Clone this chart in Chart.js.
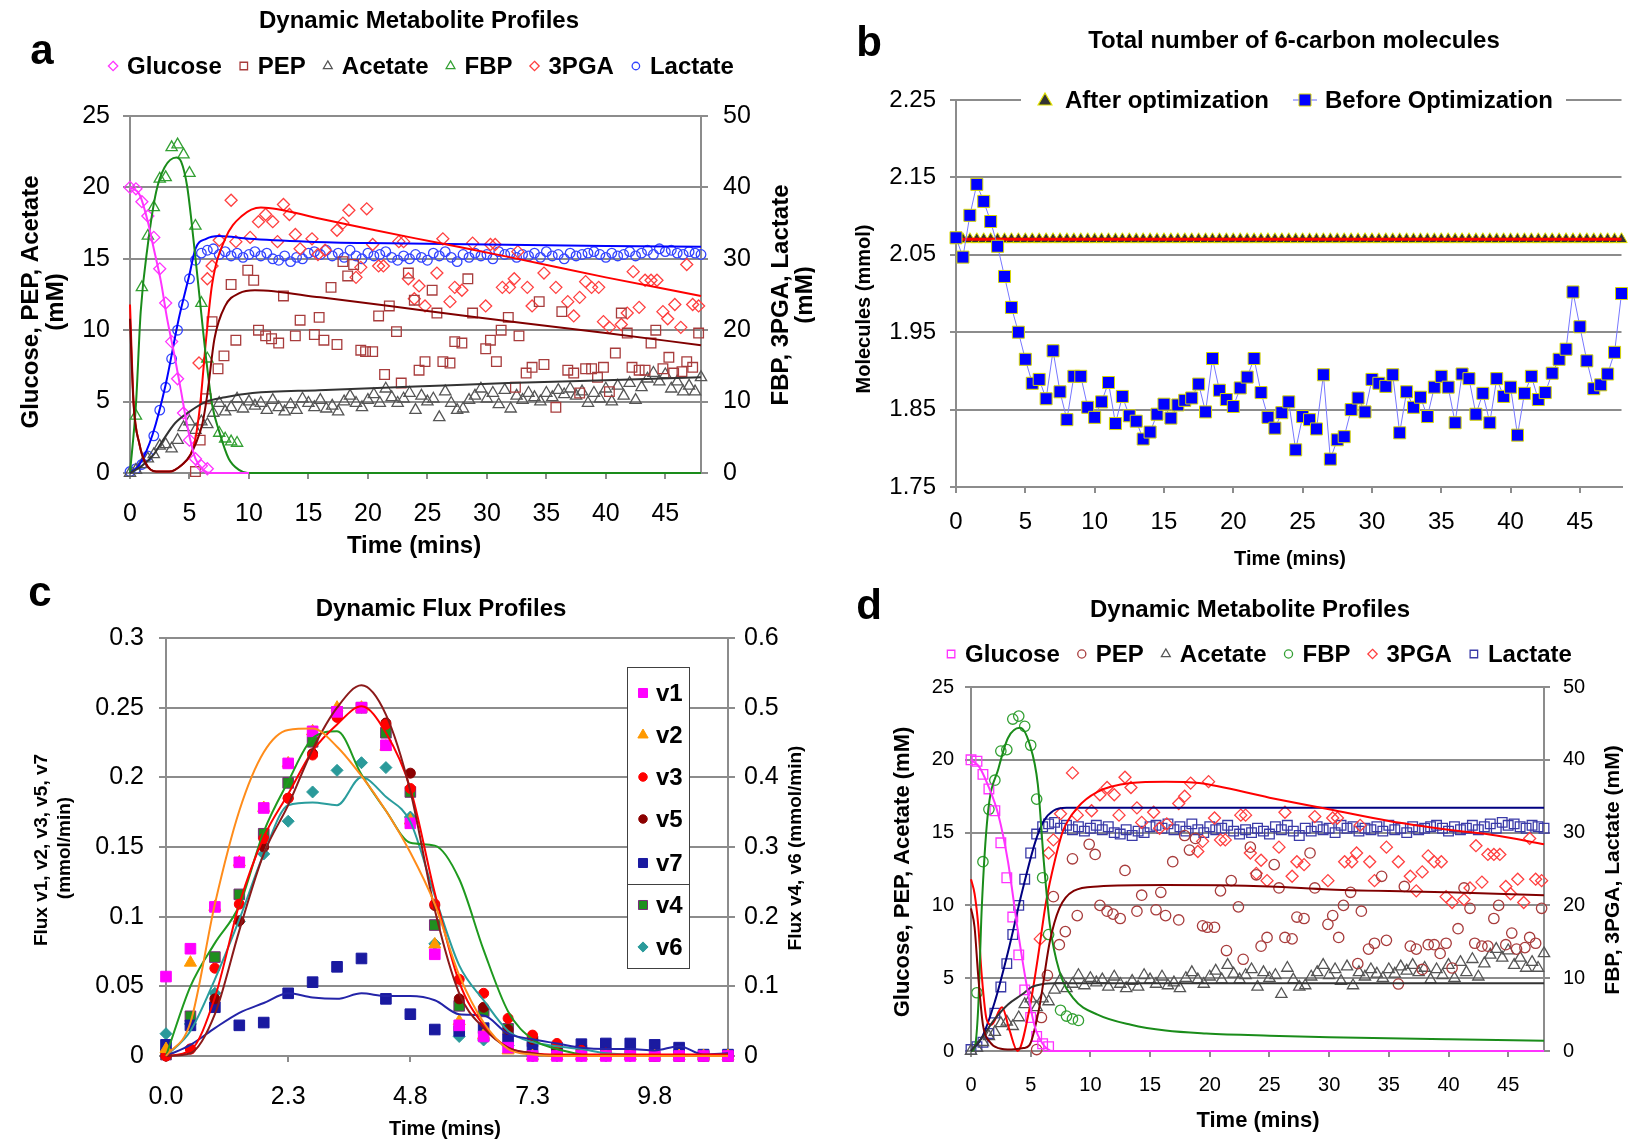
<!DOCTYPE html>
<html lang="en">
<head>
    <meta charset="UTF-8">
    <title>Metabolite and Flux Profiles</title>
    <script src="https://cdn.jsdelivr.net/npm/chart.js"></script>
    <style>
        * { box-sizing: border-box; margin: 0; padding: 0; }
        body {
            width: 1631px;
            height: 1142px;
            background: #fff;
            position: relative;
            overflow: hidden;
        }
        canvas { position: absolute; }
        #chartA { left: 0; top: 0; }
        #chartB { left: 815px; top: 0; }
        #chartC { left: 0; top: 575px; }
        #chartD { left: 815px; top: 575px; }
    </style>
</head>
<body>
    <canvas id="chartA" width="815" height="575"></canvas>
    <canvas id="chartB" width="816" height="575"></canvas>
    <canvas id="chartC" width="815" height="567"></canvas>
    <canvas id="chartD" width="816" height="567"></canvas>

    <script>
        // ---------- data ----------
        const seriesNames = ['Glucose', 'PEP', 'Acetate', 'FBP', '3PGA', 'Lactate'];
        const xTicks = [0, 5, 10, 15, 20, 25, 30, 35, 40, 45];

        // sampling grid (mins) used by the dense series
        const tGrid = [0,0.5,1,1.5,2,2.5,3,3.5,4,4.5,5,5.5,6,6.5,7,7.5,8,8.5,9,9.5,
            10,10.5,11,11.5,12,12.5,13,13.5,14,14.5,15,15.5,16,16.5,17,17.5,18,18.5,19,19.5,
            20,20.5,21,21.5,22,22.5,23,23.5,24,24.5,25,25.5,26,26.5,27,27.5,28,28.5,29,29.5,
            30,30.5,31,31.5,32,32.5,33,33.5,34,34.5,35,35.5,36,36.5,37,37.5,38,38.5,39,39.5,
            40,40.5,41,41.5,42,42.5,43,43.5,44,44.5,45,45.5,46,46.5,47,47.5,48];

        // measured metabolites (left axis: glucose, PEP, acetate / right axis: FBP, 3PGA, lactate)
        const glucoseT = [0,0.5,1,1.5,2,2.5,3,3.5,4,4.5,5,5.5,6,6.5];
        const glucoseV = [20.0,19.9,19.0,18.0,16.5,14.3,11.9,9.2,6.6,4.2,2.3,1.0,0.5,0.3];

        const fbpT = [0.5,1,1.5,2,2.5,3,3.5,4,4.5,5,5.5,6,6.5,7.5,8,8.5,9];
        const fbpV = [8.0,26.0,33.2,37.2,41.2,41.4,45.6,46.0,44.6,42.0,34.6,23.8,16.0,5.6,4.8,4.4,4.2];

        const pepT = [5.5,5.9,6.4,6.9,7.4,7.9,8.5,8.9,9.9,10.4,10.8,11.4,11.9,12.5,12.9,13.9,14.3,15.5,15.9,16.3,
            16.9,17.4,17.9,18.3,18.8,19.4,19.8,20.4,20.9,21.4,21.8,22.4,22.8,23.4,23.9,24.3,24.8,25.4,25.8,26.3,
            26.9,27.3,27.9,28.4,28.8,29.9,30.3,30.8,31.2,31.8,32.4,32.7,33.3,33.8,34.4,34.8,35.8,36.3,36.8,37.3,
            37.8,38.3,38.8,39.3,39.8,40.3,40.8,41.3,41.8,42.2,42.8,43.3,43.8,44.2,44.8,45.3,45.7,46.4,46.8,47.3,47.8];
        const pepV = [0.1,2.3,5.2,10.6,7.3,8.2,13.2,9.3,14.2,13.5,10.0,9.6,9.4,9.1,12.4,9.6,10.7,9.7,10.9,9.3,
            13.0,9.0,14.8,13.8,14.6,8.6,8.5,8.5,11.0,6.9,11.7,9.9,6.3,14.0,12.1,7.2,7.8,12.8,11.2,7.8,
            7.7,9.2,9.1,13.6,11.2,8.7,9.3,7.8,10.0,10.9,6.0,9.6,7.0,7.4,12.0,7.6,4.6,11.3,7.2,7.0,
            5.6,7.3,7.3,6.7,7.4,5.7,8.4,11.2,9.8,7.4,7.2,7.2,9.1,10.0,7.3,8.1,7.0,7.1,7.8,7.4,9.8];

        const pgaT = [5.8,6.5,6.9,7.5,8.5,8.9,10.1,10.8,11.4,12.0,12.4,12.9,13.4,13.9,14.3,15.3,15.8,16.4,17.4,17.9,
            18.4,19.0,19.4,19.9,20.4,20.9,21.3,22.6,23.0,23.4,23.9,24.3,24.8,25.8,26.3,26.9,27.3,27.9,28.8,29.9,
            30.3,30.7,31.3,31.9,32.3,32.6,33.4,33.8,34.8,35.8,36.8,37.3,37.8,38.3,38.8,39.4,39.8,40.3,41.3,41.8,
            42.3,42.8,43.3,43.8,44.3,44.8,45.2,45.8,46.3,46.8,47.3,47.8];
        const pgaV = [15.4,27.2,29.0,32.6,38.2,32.4,33.0,35.2,36.2,35.2,32.4,37.6,36.2,33.4,31.4,32.8,30.6,31.2,34.0,35.0,
            36.8,27.4,28.8,37.0,32.0,29.0,29.0,32.4,32.4,27.2,24.4,26.2,23.4,28.0,32.8,24.0,26.0,25.6,32.2,23.4,
            32.0,32.0,26.0,26.0,27.2,31.0,26.0,23.4,28.0,26.0,24.0,22.0,24.6,26.8,26.0,26.0,21.2,20.4,20.8,22.4,
            28.2,23.2,27.0,27.0,27.0,22.6,21.6,23.6,20.4,29.2,23.6,23.4];

        const lactateV = [0.2,0.6,1.2,2.4,5.2,8.8,12.0,16.0,20.0,23.6,27.2,29.8,30.8,31.2,31.4,
            30.6,31.0,30.4,30.8,30.2,30.6,31.0,30.4,30.8,30.0,29.8,30.4,29.6,30.2,30.0,
            30.8,31.0,30.6,31.2,30.4,30.8,30.2,31.2,30.4,30.0,
            30.8,30.4,30.6,31.0,30.2,29.8,30.4,30.0,30.6,30.2,
            29.8,30.8,30.4,31.0,30.2,29.6,30.6,30.2,30.8,30.4,
            30.6,30.0,31.0,30.6,30.8,30.2,30.6,30.4,30.8,30.2,
            31.0,30.4,30.6,30.0,30.8,30.4,30.6,30.8,31.0,30.6,
            30.2,30.8,30.4,30.6,31.0,30.4,30.8,31.2,30.6,31.4,
            31.0,31.2,30.8,30.6,31.0,30.8,30.6];

        const acetateV = [0.0,0.2,0.6,1.0,1.3,1.9,2.0,1.7,2.3,3.2,3.6,3.0,3.6,3.4,4.2,
            4.9,4.3,4.6,5.2,4.5,5.0,4.7,4.9,4.4,5.1,4.6,4.3,4.8,4.4,5.2,
            4.9,4.6,5.1,4.5,4.7,4.3,5.0,5.4,4.9,4.6,
            5.1,5.5,4.9,5.9,5.3,4.9,5.2,5.6,4.4,5.4,
            5.0,5.2,3.9,5.7,4.9,4.4,4.5,5.1,5.4,5.9,
            5.2,5.6,4.8,5.8,4.5,5.4,5.1,5.6,5.3,5.0,
            5.6,5.3,5.8,5.5,5.9,5.4,5.7,4.9,5.6,5.2,
            5.9,5.0,6.1,5.4,6.3,5.1,6.0,6.6,7.0,6.4,
            6.9,5.9,6.4,5.7,6.1,5.7,6.7];

        // model curves, panel a (knots)
        const glcLineAT = [0,0.8,1.5,2,2.6,3.1,3.7,4.3,4.7,5.1,5.5,6.2,6.8,10];
        const glcLineAV = [20,19.5,17.6,15.7,13.4,10.9,8.4,5.7,3.8,2.2,1.0,0.2,0,0];
        const fbpLineAT = [0,0.5,0.9,1.5,2.2,2.9,3.9,4.3,4.8,5.2,5.8,6.4,6.9,7.5,8.3,9.2,9.9,48];
        const fbpLineAV = [0,9.6,22.6,32,39.4,42.8,44.2,43.6,40.2,34.8,25.4,16,9.6,5.8,2,0.4,0,0];
        const pepLineAT = [0,0.3,0.8,1.3,2.2,3.3,4.4,5.1,5.5,6.1,6.5,7.1,8.0,9.2,10.5,16,25,33,40,48];
        const pepLineAV = [10.8,4.8,2.0,0.7,0.1,0.1,0.6,1.3,2.0,3.5,5.5,9.4,11.7,12.6,12.8,12.3,11.35,10.5,9.8,8.95];
        const pgaLineAT = [0,0.3,0.8,1.3,2.2,3.3,4.4,5.1,5.5,5.9,6.4,6.9,8.0,9.4,11,16,20,26,32,40,48];
        const pgaLineAV = [23.6,10,4,1.4,0.2,0.2,1.2,2.6,4.8,9.6,18.8,26.4,32.8,36,37.2,35.6,34.2,32.2,30.2,27.4,24.8];
        const acetLineAT = [0,1,2,2.7,3.8,5,6.4,8,10.3,15.9,24,31.8,40,48];
        const acetLineAV = [0,0.5,1.3,2.2,3.5,4.3,5.0,5.3,5.6,5.8,6.05,6.3,6.5,6.7];
        const lacLineAT = [0,0.8,1.9,3.0,4.1,5.0,5.5,6.4,7.5,10,15,20,30,40,48];
        const lacLineAV = [0,1.2,5.4,12.4,21.6,27.8,31.4,32.8,33.2,32.8,32.4,32.2,32.0,31.8,31.7];

        // model curves, panel d (knots)
        const glcLineDT = [0,0.7,1.4,2.3,3.1,3.9,4.6,5.3,6.0,6.9,48];
        const glcLineDV = [20,19.5,18.3,16.2,13.0,8.4,4.8,1.8,0.5,0,0];
        const fbpLineDT = [0,0.3,0.6,0.9,1.4,2.3,3.1,4.1,4.9,5.6,6.1,6.6,7.4,8.6,10.6,13.4,16.3,19.7,25,30,40,48];
        const fbpLineDV = [0,0.4,5.8,19.6,32.4,38.8,43,44.4,42.2,36.6,26,17.4,11,7.2,5,3.6,2.8,2.4,2.1,1.9,1.6,1.4];
        const pepLineDT = [0,0.3,0.6,1.0,1.6,2.3,3.4,4.4,4.9,5.7,6.6,7.4,8.6,10.6,16.3,25,30,40,48];
        const pepLineDV = [9.8,8.5,5.2,1.8,0.6,0.2,0.1,0.2,0.4,2.9,7.5,9.8,11.0,11.3,11.4,11.3,11.1,10.9,10.7];
        const pgaLineDT = [0,0.3,0.6,0.9,1.3,1.7,2.6,3.2,3.9,4.9,5.6,6.3,7.0,7.7,8.9,10.6,13.4,16.3,19.1,25,30,35,40,44,48];
        const pgaLineDV = [23.6,21.6,17.4,10.4,4.4,3.6,6.0,3.0,0,5.8,12.8,20.6,26,30.2,33.4,35.6,36.8,37,36.8,34.8,33.2,31.6,30.4,29.6,28.4];
        const acetLineDT = [0,0.9,2,3.1,4.3,5.1,6,7,48];
        const acetLineDV = [0,0.9,2.2,3.2,3.9,4.4,4.6,4.65,4.65];
        const lacLineDT = [0,0.9,2,3.1,4.3,5.4,6.1,6.9,8,48];
        const lacLineDV = [0,1.8,6.8,13.6,22,28.8,31.6,33,33.4,33.4];

        // panel b: total 6-carbon molecules (mmol) on tGrid
        const beforeOpt = [2.072,2.047,2.101,2.141,2.119,2.093,2.061,2.022,1.982,1.950,
            1.915,1.884,1.889,1.864,1.926,1.873,1.837,1.893,1.893,1.853,
            1.840,1.860,1.885,1.832,1.867,1.842,1.835,1.812,1.821,1.844,
            1.857,1.839,1.856,1.862,1.865,1.883,1.847,1.916,1.875,1.863,
            1.854,1.878,1.892,1.916,1.872,1.840,1.826,1.846,1.860,1.798,
            1.841,1.837,1.825,1.895,1.786,1.811,1.815,1.850,1.865,1.847,
            1.889,1.884,1.880,1.895,1.820,1.873,1.853,1.866,1.841,1.879,
            1.893,1.879,1.833,1.896,1.890,1.844,1.871,1.833,1.890,1.867,
            1.879,1.817,1.871,1.893,1.863,1.872,1.897,1.915,1.928,2.002,
            1.957,1.913,1.877,1.882,1.896,1.924,2.000];
        const afterOpt = [2.07,2.07,2.07,2.07,2.07,2.07,2.07,2.07,2.07,2.07,
            2.07,2.07,2.07,2.07,2.07,2.07,2.07,2.07,2.07,2.07,
            2.07,2.07,2.07,2.07,2.07,2.07,2.07,2.07,2.07,2.07,
            2.07,2.07,2.07,2.07,2.07,2.07,2.07,2.07,2.07,2.07,
            2.07,2.07,2.07,2.07,2.07,2.07,2.07,2.07,2.07,2.07,
            2.07,2.07,2.07,2.07,2.07,2.07,2.07,2.07,2.07,2.07,
            2.07,2.07,2.07,2.07,2.07,2.07,2.07,2.07,2.07,2.07,
            2.07,2.07,2.07,2.07,2.07,2.07,2.07,2.07,2.07,2.07,
            2.07,2.07,2.07,2.07,2.07,2.07,2.07,2.07,2.07,2.07,
            2.07,2.07,2.07,2.07,2.07,2.07,2.07];
        const bYTicks = [1.75, 1.85, 1.95, 2.05, 2.15, 2.25];

        // panel c: fluxes (v4, v6 on the right axis)
        const cLabels = ['0.0','0.3','0.8','1.3','1.8','2.3','2.8','3.3','3.8','4.3','4.8','5.3',
            '5.8','6.3','6.8','7.3','7.8','8.3','8.8','9.3','9.8','10.3','10.8','11.3'];
        const cNames = ['v1', 'v2', 'v3', 'v5', 'v7', 'v4', 'v6'];
        const v1 = [0.057,0.077,0.107,0.139,0.178,0.210,0.233,0.247,0.250,0.223,0.167,0.073,0.022,0.014,0.006,0,0,0,0,0,0,0,0,0];
        const v2 = [0.005,0.067,0.107,0.139,0.178,0.210,0.233,0.250,0.250,0.222,0.169,0.080,0.025,0.015,0.004,0,0,0,0,0,0,0,0,0];
        const v3 = [0,0.005,0.063,0.109,0.156,0.185,0.216,0.243,0.250,0.238,0.192,0.109,0.055,0.045,0.027,0.015,0.009,0.004,0.002,0.001,0,0,0,0];
        const v5 = [0,0.005,0.041,0.097,0.150,0.185,0.217,0.244,0.250,0.239,0.203,0.108,0.041,0.035,0.019,0.012,0.006,0.004,0.002,0.001,0,0,0,0];
        const v7 = [0.008,0.022,0.035,0.022,0.024,0.045,0.053,0.064,0.070,0.041,0.030,0.019,0.018,0.020,0.012,0.006,0.006,0.0085,0.009,0.009,0.008,0.006,0.001,0.001];
        const v4 = [0.002,0.057,0.142,0.232,0.319,0.392,0.451,0.494,0.500,0.464,0.379,0.188,0.072,0.064,0.039,0.021,0.010,0.008,0.004,0.002,0,0,0,0];
        const v6 = [0.032,0.046,0.090,0.193,0.290,0.337,0.379,0.410,0.421,0.414,0.343,0.161,0.028,0.023,0.015,0,0,0,0,0,0,0,0,0];
        // model curves
        const v2Fit = [0,0.024,0.109,0.176,0.218,0.234,0.235,0.222,0.201,0.176,0.146,0.109,0.058,0.024,0.005,0.001,0,0,0,0,0,0,0,0];
        const v3Fit = [0,0.004,0.042,0.109,0.157,0.188,0.219,0.238,0.251,0.232,0.192,0.117,0.053,0.022,0.006,0.002,0.001,0.001,0.001,0.001,0.001,0.001,0.001,0.001];
        const v5Fit = [0,0.002,0.030,0.090,0.145,0.180,0.220,0.250,0.266,0.245,0.190,0.105,0.045,0.020,0.006,0.002,0,0,0,0,0,0,0,0];
        const v7Fit = [0,0.008,0.020,0.031,0.038,0.045,0.042,0.041,0.045,0.043,0.043,0.040,0.030,0.029,0.016,0.012,0.009,0.006,0.005,0.005,0.004,0.007,0.001,0.002];
        const v4Fit = [0,0.100,0.162,0.216,0.322,0.394,0.456,0.466,0.404,0.352,0.306,0.302,0.254,0.152,0.064,0.024,0.010,0.002,null,null,null,null,null,null];
        const v6Fit = [0,0.036,0.110,0.196,0.290,0.360,0.364,0.360,0.400,0.372,0.336,0.230,0.130,0.080,0.036,0.020,0.014,0.010,0.004,0.002,0,0,0,0];

        // ---------- helpers ----------
        const FONT = "'Liberation Sans', Arial, Helvetica, sans-serif";
        const fnt = (size, bold) => (bold ? 'bold ' : '') + size + 'px ' + FONT;
        Chart.defaults.font.family = FONT;
        Chart.defaults.color = '#000';
        const GRID = '#8c8c8c';

        const pairs = (ts, vs) => ts.map((t, i) => ({ x: t, y: vs[i] }));

        function drawMarker(ctx, style, x, y, r, fill, stroke, lw) {
            ctx.beginPath();
            if (style === 'circle') {
                ctx.arc(x, y, r, 0, Math.PI * 2);
            } else if (style === 'rect') {
                const h = r * Math.SQRT1_2;
                ctx.rect(x - h, y - h, 2 * h, 2 * h);
            } else if (style === 'rectRot') {
                ctx.moveTo(x, y - r); ctx.lineTo(x + r, y); ctx.lineTo(x, y + r); ctx.lineTo(x - r, y);
                ctx.closePath();
            } else if (style === 'triangle') {
                ctx.moveTo(x, y - r); ctx.lineTo(x + r * 0.866, y + r * 0.5); ctx.lineTo(x - r * 0.866, y + r * 0.5);
                ctx.closePath();
            }
            if (fill) { ctx.fillStyle = fill; ctx.fill(); }
            if (stroke) { ctx.strokeStyle = stroke; ctx.lineWidth = lw; ctx.stroke(); }
        }

        // texts (titles, axis titles, panel letters) and hand-made legends
        function textPlugin(items, extra) {
            return {
                id: 'panelText',
                afterDraw(chart) {
                    const ctx = chart.ctx;
                    items.forEach(t => {
                        ctx.save();
                        ctx.font = t.font;
                        ctx.fillStyle = '#000';
                        ctx.textAlign = t.align || 'center';
                        ctx.textBaseline = t.base || 'middle';
                        ctx.translate(t.x, t.y);
                        if (t.rot) ctx.rotate(-Math.PI / 2);
                        ctx.fillText(t.text, 0, 0);
                        ctx.restore();
                    });
                    if (extra) { ctx.save(); extra(ctx); ctx.restore(); }
                }
            };
        }

        // one row legend, centred at cx
        function legendRow(items, cx, y) {
            return ctx => {
                ctx.font = fnt(24, true);
                const w = items.map(it => ctx.measureText(it.name).width);
                const total = w.reduce((s, v) => s + 14 + v + 22, 0) - 22 + 5;
                let x = cx - total / 2 + 5;
                items.forEach((it, i) => {
                    drawMarker(ctx, it.style, x, y, it.r * 0.78, null, it.color, 1.3);
                    ctx.fillStyle = '#000';
                    ctx.textAlign = 'left';
                    ctx.textBaseline = 'middle';
                    ctx.fillText(it.name, x + 14, y + 1);
                    x += 14 + w[i] + 22;
                });
            };
        }

        function markers(label, data, style, color, axis, r, fill) {
            return {
                label, data, yAxisID: axis, showLine: false, clip: false,
                pointStyle: style, pointRadius: r, pointHoverRadius: r,
                pointBorderColor: color, pointBackgroundColor: fill || 'rgba(0,0,0,0)',
                pointBorderWidth: fill ? 1 : 1.3
            };
        }

        function curve(data, color, axis, width) {
            return {
                data, yAxisID: axis, showLine: true, clip: false,
                borderColor: color, borderWidth: width || 2, pointRadius: 0,
                cubicInterpolationMode: 'monotone', spanGaps: false
            };
        }

        function yScale(pos, min, max, ticks, width, o) {
            return {
                type: 'linear', position: pos, min, max,
                afterBuildTicks: s => { s.ticks = ticks.map(v => ({ value: v })); },
                afterFit: s => { s.width = width; },
                grid: { drawOnChartArea: !!o.grid, color: GRID, lineWidth: 2, tickLength: o.tl },
                border: { display: true, color: GRID, width: 2 },
                ticks: { font: { size: o.fs }, color: '#000', padding: o.pad, autoSkip: false,
                         callback: o.cb || (v => String(v)) }
            };
        }

        function xLinear(height, fs, pad) {
            return {
                type: 'linear', min: 0, max: 48,
                afterBuildTicks: s => { s.ticks = xTicks.map(v => ({ value: v })); },
                afterFit: s => { s.height = height; },
                grid: { drawOnChartArea: false, color: GRID, lineWidth: 2, tickLength: 6 },
                border: { display: true, color: GRID, width: 2 },
                ticks: { font: { size: fs }, color: '#000', padding: pad, maxRotation: 0, autoSkip: false }
            };
        }

        const baseOptions = (padding, scales) => ({
            responsive: false,
            animation: false,
            devicePixelRatio: 1,
            events: [],
            layout: { padding },
            plugins: { legend: { display: false }, tooltip: { enabled: false } },
            scales
        });

        // ---------- panel a ----------
        const styleA = [
            { style: 'rectRot', color: '#ff33ff', r: 6 },
            { style: 'rect', color: '#a83c3c', r: 6.8 },
            { style: 'triangle', color: '#555555', r: 6.5 },
            { style: 'triangle', color: '#33a033', r: 6.5 },
            { style: 'rectRot', color: '#ff4040', r: 6 },
            { style: 'circle', color: '#3344ff', r: 4.8 }
        ];
        const obsSets = [
            { d: pairs(glucoseT, glucoseV), ax: 'y' },
            { d: pairs(pepT, pepV), ax: 'y' },
            { d: pairs(tGrid, acetateV), ax: 'y' },
            { d: pairs(fbpT, fbpV), ax: 'y2' },
            { d: pairs(pgaT, pgaV), ax: 'y2' },
            { d: pairs(tGrid, lactateV), ax: 'y2' }
        ];

        new Chart(document.getElementById('chartA'), {
            type: 'line',
            data: {
                datasets: [
                    curve(pairs(glcLineAT, glcLineAV), '#ff33ff', 'y'),
                    curve(pairs(pepLineAT, pepLineAV), '#800000', 'y'),
                    curve(pairs(acetLineAT, acetLineAV), '#333333', 'y'),
                    curve(pairs(fbpLineAT, fbpLineAV), '#1a8c1a', 'y2'),
                    curve(pairs(pgaLineAT, pgaLineAV), '#ff0000', 'y2'),
                    curve(pairs(lacLineAT, lacLineAV), '#0000ff', 'y2')
                ].concat(obsSets.map((s, i) =>
                    markers(seriesNames[i], s.d, styleA[i].style, styleA[i].color, s.ax, styleA[i].r)))
            },
            options: baseOptions({ top: 116, left: 0, right: 0, bottom: 0 }, {
                x: xLinear(102, 25, 20),
                y: yScale('left', 0, 25, [0, 5, 10, 15, 20, 25], 130, { grid: true, tl: 7, fs: 25, pad: 13 }),
                y2: yScale('right', 0, 50, [0, 10, 20, 30, 40, 50], 114, { grid: false, tl: 7, fs: 25, pad: 15 })
            }),
            plugins: [textPlugin([
                { text: 'a', x: 42, y: 64, font: fnt(42, true), base: 'alphabetic' },
                { text: 'Dynamic Metabolite Profiles', x: 419, y: 21, font: fnt(24, true) },
                { text: 'Glucose, PEP, Acetate', x: 31, y: 302, font: fnt(24, true), rot: true },
                { text: '(mM)', x: 56, y: 302, font: fnt(24, true), rot: true },
                { text: 'FBP, 3PGA, Lactate', x: 781, y: 295, font: fnt(24, true), rot: true },
                { text: '(mM)', x: 805, y: 295, font: fnt(24, true), rot: true },
                { text: 'Time (mins)', x: 414, y: 546, font: fnt(24, true) }
            ], legendRow(seriesNames.map((n, i) => ({ name: n, style: styleA[i].style, color: styleA[i].color, r: styleA[i].r })), 421, 66))]
        });

        // ---------- panel b ----------
        new Chart(document.getElementById('chartB'), {
            type: 'line',
            data: {
                datasets: [
                    Object.assign(markers('Before Optimization', pairs(tGrid, beforeOpt), 'rect', '#d8d800', 'y', 8.5, '#0000ff'),
                        { showLine: true, borderColor: '#7777ff', borderWidth: 1, tension: 0 }),
                    Object.assign(curve(pairs(tGrid, afterOpt), '#ff0000', 'y', 3), { cubicInterpolationMode: 'default', tension: 0 }),
                    markers('After optimization', pairs(tGrid, afterOpt), 'triangle', '#e0e000', 'y', 6.6, '#333333')
                ]
            },
            options: baseOptions({ top: 100, left: 0, right: 8, bottom: 0 }, {
                x: xLinear(88, 24, 15),
                y: yScale('left', 1.75, 2.25, bYTicks, 141, { grid: true, tl: 6, fs: 24, pad: 14, cb: v => v.toFixed(2) })
            }),
            plugins: [textPlugin([
                { text: 'b', x: 54, y: 56, font: fnt(42, true), base: 'alphabetic' },
                { text: 'Total number of 6-carbon molecules', x: 479, y: 41, font: fnt(24, true) },
                { text: 'Molecules (mmol)', x: 49, y: 309, font: fnt(20, true), rot: true },
                { text: 'Time (mins)', x: 475, y: 559, font: fnt(20, true) }
            ], ctx => {
                const y = 100;
                ctx.fillStyle = '#fff';
                ctx.fillRect(206, y - 16, 545, 32);
                drawMarker(ctx, 'triangle', 230, y + 1, 8, '#333333', '#e0e000', 1.2);
                ctx.strokeStyle = '#9999ff'; ctx.lineWidth = 1.5;
                ctx.beginPath(); ctx.moveTo(478, y); ctx.lineTo(502, y); ctx.stroke();
                drawMarker(ctx, 'rect', 490, y, 8.5, '#0000ff', '#d8d800', 1);
                ctx.font = fnt(24, true); ctx.fillStyle = '#000';
                ctx.textAlign = 'left'; ctx.textBaseline = 'middle';
                ctx.fillText('After optimization', 250, y + 1);
                ctx.fillText('Before Optimization', 510, y + 1);
            })]
        });

        // ---------- panel c ----------
        const styleC = [
            { style: 'rect', color: '#ff00ff', r: 7.5, ax: 'y', data: v1 },
            { style: 'triangle', color: '#ff9900', r: 7, ax: 'y', data: v2 },
            { style: 'circle', color: '#ff0000', r: 5, ax: 'y', data: v3 },
            { style: 'circle', color: '#8b0000', r: 5, ax: 'y', data: v5 },
            { style: 'rect', color: '#1a1aa0', r: 7.5, ax: 'y', data: v7 },
            { style: 'rect', color: '#1f8f1f', r: 7.5, ax: 'y2', data: v4, edge: '#7a2a7a' },
            { style: 'rectRot', color: '#2a9a9a', r: 6, ax: 'y2', data: v6 }
        ];

        new Chart(document.getElementById('chartC'), {
            type: 'line',
            data: {
                labels: cLabels,
                datasets: [
                    curve(v2Fit, '#ff8c1a', 'y'),
                    curve(v5Fit, '#8b1a1a', 'y'),
                    curve(v3Fit, '#ff0000', 'y'),
                    curve(v7Fit, '#2424a8', 'y'),
                    curve(v4Fit, '#1f9a1f', 'y2'),
                    curve(v6Fit, '#2a9d9d', 'y2')
                ].concat(styleC.map((s, i) =>
                    markers(cNames[i], s.data, s.style, s.edge || s.color, s.ax, s.r, s.color)))
            },
            options: baseOptions({ top: 63, left: 0, right: 0, bottom: 0 }, {
                x: {
                    type: 'category',
                    afterFit: s => { s.height = 86; },
                    grid: { drawOnChartArea: false, lineWidth: 2, tickLength: 6,
                            color: c => (c.index % 5 === 0 ? GRID : 'rgba(0,0,0,0)') },
                    border: { display: true, color: GRID, width: 2 },
                    ticks: { font: { size: 25 }, color: '#000', padding: 20, maxRotation: 0, autoSkip: false,
                             callback: (v, i) => (i % 5 === 0 ? cLabels[i] : '') }
                },
                y: yScale('left', 0, 0.3, [0, 0.05, 0.1, 0.15, 0.2, 0.25, 0.3], 166, { grid: true, tl: 7, fs: 25, pad: 15 }),
                y2: yScale('right', 0, 0.6, [0, 0.1, 0.2, 0.3, 0.4, 0.5, 0.6], 87, { grid: false, tl: 7, fs: 25, pad: 9 })
            }),
            plugins: [textPlugin([
                { text: 'c', x: 40, y: 31, font: fnt(42, true), base: 'alphabetic' },
                { text: 'Dynamic Flux Profiles', x: 441, y: 34, font: fnt(24, true) },
                { text: 'Flux v1, v2, v3, v5, v7', x: 42, y: 275, font: fnt(19, true), rot: true },
                { text: '(mmol/min)', x: 65, y: 273, font: fnt(19, true), rot: true },
                { text: 'Flux v4, v6 (mmol/min)', x: 796, y: 273, font: fnt(19, true), rot: true },
                { text: 'Time (mins)', x: 445, y: 554, font: fnt(20, true) }
            ], ctx => {
                ctx.fillStyle = '#fff';
                ctx.fillRect(627, 92, 62, 301);
                ctx.strokeStyle = '#404040'; ctx.lineWidth = 1;
                ctx.strokeRect(627.5, 92.5, 62, 301);
                ctx.beginPath(); ctx.moveTo(627, 309.5); ctx.lineTo(689, 309.5); ctx.stroke();
                const rows = [118, 160, 202, 244, 288, 330, 372];
                ctx.font = fnt(24, true);
                styleC.forEach((s, i) => {
                    drawMarker(ctx, s.style, 643, rows[i], s.r * 0.85, s.color, s.edge || s.color, 1);
                    ctx.fillStyle = '#000'; ctx.textAlign = 'left'; ctx.textBaseline = 'middle';
                    ctx.fillText(cNames[i], 656, rows[i] + 1);
                });
            })]
        });

        // ---------- panel d ----------
        const styleD = [
            { style: 'rect', color: '#ff33ff', r: 6.8 },
            { style: 'circle', color: '#a83c3c', r: 5.2 },
            { style: 'triangle', color: '#555555', r: 6.5 },
            { style: 'circle', color: '#33a033', r: 5.2 },
            { style: 'rectRot', color: '#ff4040', r: 6 },
            { style: 'rect', color: '#3a3aa8', r: 6.8 }
        ];

        new Chart(document.getElementById('chartD'), {
            type: 'line',
            data: {
                datasets: [
                    curve(pairs(glcLineDT, glcLineDV), '#ff33ff', 'y'),
                    curve(pairs(pepLineDT, pepLineDV), '#800000', 'y'),
                    curve(pairs(acetLineDT, acetLineDV), '#333333', 'y'),
                    curve(pairs(fbpLineDT, fbpLineDV), '#1a8c1a', 'y2'),
                    curve(pairs(pgaLineDT, pgaLineDV), '#ff0000', 'y2'),
                    curve(pairs(lacLineDT, lacLineDV), '#000080', 'y2')
                ].concat(obsSets.map((s, i) =>
                    markers(seriesNames[i], s.d, styleD[i].style, styleD[i].color, s.ax, styleD[i].r)))
            },
            options: baseOptions({ top: 112, left: 0, right: 0, bottom: 0 }, {
                x: xLinear(91, 20, 16),
                y: yScale('left', 0, 25, [0, 5, 10, 15, 20, 25], 156, { grid: true, tl: 6, fs: 20, pad: 11 }),
                y2: yScale('right', 0, 50, [0, 10, 20, 30, 40, 50], 87, { grid: false, tl: 6, fs: 20, pad: 13 })
            }),
            plugins: [textPlugin([
                { text: 'd', x: 54, y: 44, font: fnt(42, true), base: 'alphabetic' },
                { text: 'Dynamic Metabolite Profiles', x: 435, y: 35, font: fnt(24, true) },
                { text: 'Glucose, PEP, Acetate (mM)', x: 88, y: 297, font: fnt(22, true), rot: true },
                { text: 'FBP, 3PGA, Lactate (mM)', x: 798, y: 295, font: fnt(21, true), rot: true },
                { text: 'Time (mins)', x: 443, y: 546, font: fnt(22, true) }
            ], legendRow(seriesNames.map((n, i) => ({ name: n, style: styleD[i].style, color: styleD[i].color, r: styleD[i].r })), 444, 79))]
        });
    </script>
</body>
</html>
